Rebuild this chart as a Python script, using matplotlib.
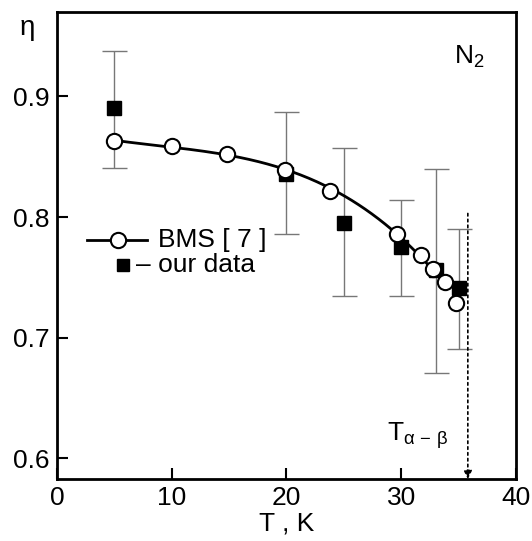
import numpy as np
import matplotlib
matplotlib.use("Agg")
import matplotlib.pyplot as plt

plt.rcParams['font.family'] = ['Liberation Sans', 'DejaVu Sans']
plt.rcParams['mathtext.fontset'] = 'custom'
plt.rcParams['mathtext.rm'] = 'Liberation Sans'
plt.rcParams['mathtext.it'] = 'Liberation Sans'

# BMS [7] data (open circles)
bms_T = [5.0, 10.0, 14.8, 19.9, 23.8, 29.6, 31.7, 32.8, 33.8, 34.8]
bms_eta = [0.863, 0.859, 0.852, 0.839, 0.822, 0.786, 0.769, 0.757, 0.746, 0.729]

# our data (filled squares) with error bars
our_T = [5.0, 20.0, 25.0, 30.0, 33.0, 35.0]
our_eta = [0.890, 0.836, 0.795, 0.775, 0.756, 0.741]
err_hi = [0.938, 0.887, 0.857, 0.814, 0.840, 0.790]
err_lo = [0.841, 0.786, 0.735, 0.735, 0.671, 0.691]

T_ab = 35.8

fig = plt.figure(figsize=(5.32, 5.41), dpi=100)
ax = fig.add_axes([0.107, 0.1146, 0.863, 0.8634])

our_T_a = np.array(our_T); our_eta_a = np.array(our_eta)
yerr = [our_eta_a - np.array(err_lo), np.array(err_hi) - our_eta_a]
ax.errorbar(our_T, our_eta, yerr=yerr, fmt='none', ecolor='#777777',
            elinewidth=1.0, capsize=9, capthick=1.0, zorder=1)

# smooth fit through BMS points
coef = np.polyfit(bms_T, bms_eta, 3)
tt = np.linspace(bms_T[0], bms_T[-2], 200)
ax.plot(tt, np.polyval(coef, tt), color='black', lw=2, zorder=2)

ax.plot(our_T, our_eta, 's', color='black', ms=10, zorder=3)
ax.plot(bms_T, bms_eta, 'o', mfc='white', mec='black', mew=1.5, ms=11, zorder=4)

# transition arrow
ax.annotate('', xy=(T_ab, 0.583), xytext=(T_ab, 0.803),
            arrowprops=dict(arrowstyle='-|>', linestyle=(0, (1.5, 2)), color='black',
                            lw=1.2, mutation_scale=12, shrinkA=0, shrinkB=0))
ax.text(28.8, 0.615, r'T$_{\alpha\,-\,\beta}$', fontsize=19, ha='left', va='baseline')

ax.text(34.6, 0.927, r'N$_2$', fontsize=19, ha='left', va='baseline')

# legend
ax.plot([2.6, 7.85], [0.781, 0.781], color='black', lw=2, zorder=2)
ax.plot([5.3], [0.781], 'o', mfc='white', mec='black', mew=1.5, ms=11, zorder=4)
ax.text(8.8, 0.781, 'BMS [ 7 ]', fontsize=19, va='center', ha='left')
ax.plot([5.8], [0.760], 's', color='black', ms=9)
ax.text(6.9, 0.760, '\u2013 our data', fontsize=19, va='center', ha='left')

ax.set_xlim(0, 40)
ax.set_ylim(0.583, 0.97)
ax.set_xticks([0, 10, 20, 30, 40])
ax.set_yticks([0.6, 0.7, 0.8, 0.9])
ax.set_yticklabels(['0.6', '0.7', '0.8', '0.9'])
ax.tick_params(direction='in', length=8, width=1.5, labelsize=19, pad=5,
               top=False, right=False)
for s in ax.spines.values():
    s.set_linewidth(2)

ax.set_xlabel('T , K', fontsize=19, labelpad=1)
fig.text(0.052, 0.948, '\u03b7', fontsize=20, ha='center', va='center')

fig.savefig('out.png', dpi=100)
